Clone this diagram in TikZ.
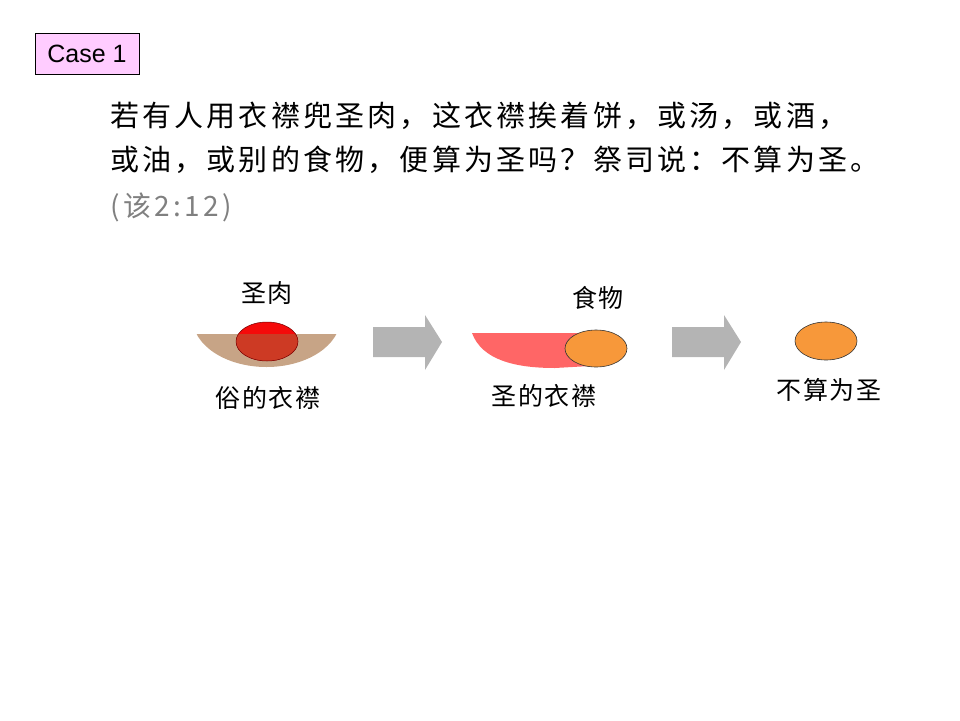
\documentclass[tikz,border=0pt]{standalone}
\usepackage{fontspec}
\setmainfont{Liberation Sans}
\newfontfamily\cjk[LetterSpace=11]{Noto Sans CJK SC}
\newfontfamily\cjkref[LetterSpace=12]{Noto Sans CJK SC}
\newfontfamily\cjklabel[LetterSpace=7]{Noto Sans CJK SC}
\usepackage{tikz}
\usetikzlibrary{positioning}

\definecolor{casepink}{RGB}{255,204,255}
\definecolor{clothtan}{RGB}{199,164,134}
\definecolor{meatred}{RGB}{245,10,10}
\definecolor{meatdark}{RGB}{205,58,36}
\definecolor{holypink}{RGB}{255,102,102}
\definecolor{foodorange}{RGB}{247,152,58}
\definecolor{arrowgray}{RGB}{180,180,180}
\definecolor{refgray}{RGB}{128,128,128}

\begin{document}
\begin{tikzpicture}[x=1pt, y=-1pt,
  verse/.style={anchor=west, inner sep=0pt, font=\cjk\fontsize{29}{33}\selectfont},
  label/.style={inner sep=0pt, font=\cjklabel\fontsize{25}{28}\selectfont},
  food/.style={fill=foodorange, draw=black!80, line width=0.6pt}]
  \useasboundingbox (0,0) rectangle (960,720);

  % case tag and verse
  \node[draw=black, fill=casepink, line width=0.8pt, minimum width=104pt, minimum height=41pt,
        inner sep=0pt, font=\fontsize{25}{28}\selectfont] (casetag) at (87,53.5) {Case 1};
  \node[verse] (line1) at (110,116) {若有人用衣襟兜圣肉，这衣襟挨着饼，或汤，或酒，};
  \node[verse] (line2) at (110,160) {或油，或别的食物，便算为圣吗？祭司说：不算为圣。};
  \node[anchor=west, inner sep=0pt, text=refgray, font=\cjkref\fontsize{28}{32}\selectfont]
    (ref) at (110,207) {(该2:12)};

  % common garment with holy meat
  \begin{scope}
    \clip (150,334) rectangle (380,400);
    \fill[clothtan] (266.5,318) ellipse (74 and 49);
  \end{scope}
  \fill[meatred] (267,341.5) ellipse (31 and 19.5);
  \begin{scope}
    \clip (230,334) rectangle (305,365);
    \fill[meatdark] (267,341.5) ellipse (31 and 19.5);
  \end{scope}
  \draw[red!45!black, line width=0.5pt] (267,341.5) ellipse (31 and 19.5);
  \node[label] (meat) at (267,293) {圣肉};
  \node[label] (common) at (268,398) {俗的衣襟};

  % gray arrows
  \fill[arrowgray] (373,327) -- (425,327) -- (425,315) -- (442,342) -- (425,370) -- (425,357) -- (373,357) -- cycle;
  \fill[arrowgray] (672,327) -- (724,327) -- (724,315) -- (741,342) -- (724,370) -- (724,357) -- (672,357) -- cycle;

  % holy garment touching food
  \fill[holypink] (472,333) .. controls (482,360) and (515,368) .. (555,368) -- (590,366) -- (590,333) -- cycle;
  \draw[food] (596,348.5) ellipse (31 and 18.5);
  \node[label] (food1) at (598,298) {食物};
  \node[label] (holy) at (544,396) {圣的衣襟};

  % food alone
  \draw[food] (826,341) ellipse (31 and 19);
  \node[label] (result) at (829,390) {不算为圣};
\end{tikzpicture}
\end{document}
